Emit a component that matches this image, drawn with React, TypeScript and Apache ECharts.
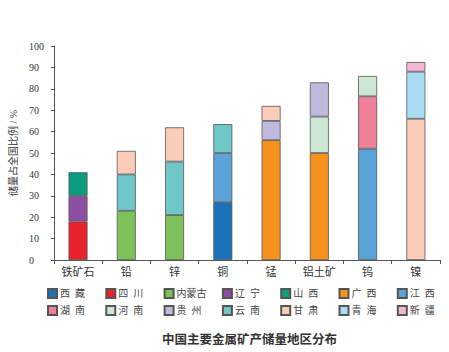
import React, { useEffect, useRef } from "react";
import * as echarts from "echarts";

const categories = ["铁矿石", "铅", "锌", "铜", "锰", "铝土矿", "钨", "镍"];
const regions = ["西藏", "四川", "内蒙古", "辽宁", "山西", "广西", "江西", "湖南", "河南", "贵州", "云南", "甘肃", "青海", "新疆"];
const regionColors = ["#1b72bb", "#e7222b", "#7dc15b", "#8d4f9f", "#0e9c80", "#f5911d", "#5ba2d9", "#ee7f96", "#cbe7d4", "#c0b9de", "#6fc7c9", "#fbcdb8", "#aadcf5", "#f5b6d6"];
// values per region across categories (percent of national reserves)
const xizang = [null, null, null, 27, null, null, null, null];
const sichuan = [18, null, null, null, null, null, null, null];
const neimenggu = [null, 23, 21, null, null, null, null, null];
const liaoning = [12, null, null, null, null, null, null, null];
const shanxi = [11, null, null, null, null, null, null, null];
const guangxi = [null, null, null, null, 56, 50, null, null];
const jiangxi = [null, null, null, 23, null, null, 52, null];
const hunan = [null, null, null, null, null, null, 24.5, null];
const henan = [null, null, null, null, null, 17, 9.5, null];
const guizhou = [null, null, null, null, 9, 16, null, null];
const yunnan = [null, 17, 25, 13.5, null, null, null, null];
const gansu = [null, 11, 16, null, 7, null, null, 66];
const qinghai = [null, null, null, null, null, null, null, 22];
const xinjiang = [null, null, null, null, null, null, null, 4.5];
const seriesValues = [xizang, sichuan, neimenggu, liaoning, shanxi, guangxi, jiangxi, hunan, henan, guizhou, yunnan, gansu, qinghai, xinjiang];
const yTicks = [0, 10, 20, 30, 40, 50, 60, 70, 80, 90, 100];

const FONT = "'Liberation Serif', 'Noto Sans CJK SC', serif";

export default function App() {
  const ref = useRef<HTMLDivElement>(null);
  useEffect(() => {
    const chart = echarts.init(ref.current!, null, { renderer: "svg" });
    const fmt = (n: string) => (n.length === 2 ? n[0] + "  " + n[1] : n);
    const legends = regions.map((r, i) => ({
      data: [r],
      left: 47 + (i % 7) * 58.3,
      top: i < 7 ? 288 : 305,
      itemWidth: 9,
      itemHeight: 9,
      itemGap: 0,
      icon: "rect",
      formatter: fmt,
      padding: 0,
      textStyle: { fontSize: 10, color: "#444", fontFamily: FONT, padding: [0, 0, 0, -2] },
    }));
    chart.setOption({
      animation: false,
      backgroundColor: "#ffffff",
      title: {
        text: "中国主要金属矿产储量地区分布",
        left: 162,
        top: 332,
        padding: 0,
        textStyle: { fontSize: 12.5, fontWeight: "bold", color: "#333", fontFamily: "'Noto Sans CJK SC', sans-serif" },
      },
      grid: { left: 50, right: 9, top: 46, bottom: 92 },
      legend: legends,
      xAxis: {
        type: "category",
        data: categories,
        axisLine: { lineStyle: { color: "#555", width: 1 } },
        axisTick: { show: true, length: 4, lineStyle: { color: "#555" } },
        axisLabel: { fontSize: 11, color: "#333", fontFamily: FONT, margin: 6 },
      },
      yAxis: {
        type: "value",
        min: 0,
        max: yTicks[yTicks.length - 1],
        interval: 10,
        name: "储量占全国比例 / %",
        nameLocation: "middle",
        nameGap: 28,
        nameTextStyle: { fontSize: 10, color: "#333", fontFamily: FONT },
        splitLine: { show: false },
        axisLine: { show: true, lineStyle: { color: "#555", width: 1 } },
        axisTick: { show: true, length: 3, lineStyle: { color: "#555" } },
        axisLabel: {
          fontSize: 10,
          color: "#333",
          fontFamily: FONT,
          margin: 8,
          formatter: (v: number) => "{v|" + v + "}",
          rich: { v: { width: 17, align: "left", fontSize: 10, color: "#333", fontFamily: FONT } },
        },
      },
      series: regions.map((r, i) => ({
        name: r,
        type: "bar",
        stack: "total",
        barWidth: 19,
        data: seriesValues[i],
        itemStyle: { color: regionColors[i], borderColor: "#555", borderWidth: 0.8 },
      })),
    });
    return () => chart.dispose();
  }, []);
  return <div ref={ref} style={{ width: 449, height: 352, position: "absolute", left: 0, top: 0 }} />;
}
